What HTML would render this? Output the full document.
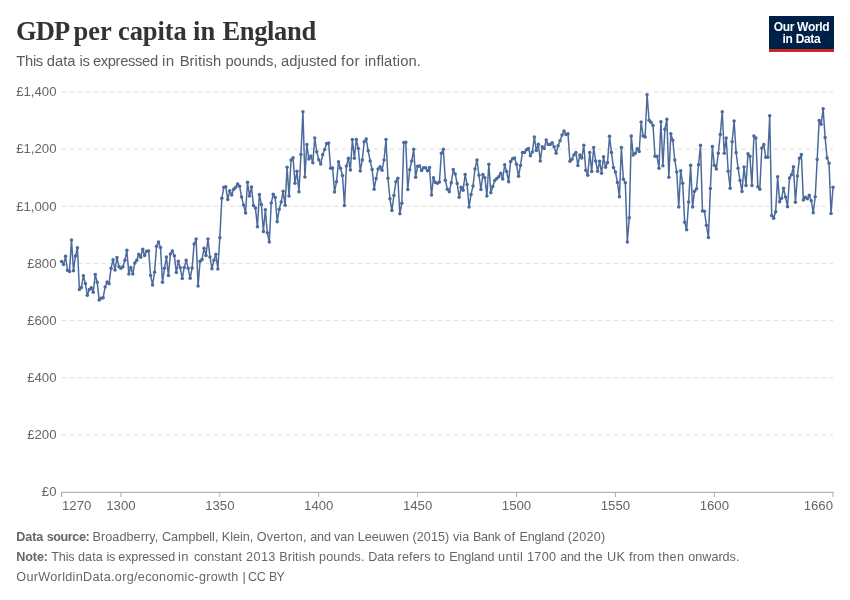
<!DOCTYPE html>
<html><head><meta charset="utf-8"><title>GDP per capita in England</title>
<style>
html,body{margin:0;padding:0;background:#fff;}
body{width:850px;height:600px;position:relative;overflow:hidden;font-family:"Liberation Sans",sans-serif;}
#title{position:absolute;left:0;top:15.4px;font-family:"Liberation Serif",serif;font-weight:bold;font-size:26.5px;color:#333;white-space:nowrap;line-height:32px;}
#sub{position:absolute;left:0;top:51px;font-size:14.75px;color:#5b5b5b;white-space:nowrap;line-height:20px;}
#logo{position:absolute;left:769px;top:16px;width:65px;height:36px;background:#002147;box-sizing:border-box;border-bottom:3px solid #c8281f;color:#fff;font-weight:bold;font-size:12px;line-height:12.5px;text-align:center;padding-top:4.5px;letter-spacing:-0.3px;}
.ft{position:absolute;left:0;font-size:12.6px;color:#666;white-space:pre;line-height:16px;}
#title span,#sub span,.ft span{position:absolute;top:0;white-space:pre;}
svg{position:absolute;left:0;top:0;}
svg text{font-family:"Liberation Sans",sans-serif;font-size:13.2px;fill:#666;}
#wrap{position:absolute;left:0;top:0;width:850px;height:600px;will-change:transform;-webkit-font-smoothing:antialiased;}
</style></head><body><div id="wrap">
<div id="title"><span style="left:16.10px;letter-spacing:-0.927px;font-weight:bold">GDP </span><span style="left:73.50px;letter-spacing:0.045px;font-weight:bold">per </span><span style="left:118.10px;letter-spacing:-0.130px;font-weight:bold">capita </span><span style="left:193.00px;letter-spacing:0.222px;font-weight:bold">in </span><span style="left:222.40px;letter-spacing:-0.324px;font-weight:bold">England</span></div>
<div id="sub"><span style="left:16.30px;letter-spacing:-0.314px">This </span><span style="left:46.70px;letter-spacing:0.017px">data </span><span style="left:79.60px;letter-spacing:-0.483px">is </span><span style="left:92.90px;letter-spacing:-0.356px">expressed </span><span style="left:161.50px;letter-spacing:0.443px;transform:scaleX(1.0300);transform-origin:0 0">in </span><span style="left:179.70px;letter-spacing:0.088px">British </span><span style="left:225.50px;letter-spacing:-0.124px">pounds, </span><span style="left:281.10px;letter-spacing:0.003px">adjusted </span><span style="left:341.00px;letter-spacing:0.443px;transform:scaleX(1.0268);transform-origin:0 0">for </span><span style="left:364.70px;letter-spacing:0.145px">inflation.</span></div>
<div id="logo">Our World<br>in Data</div>
<svg width="850" height="600" viewBox="0 0 850 600">
<g stroke="#ddd" stroke-width="1" stroke-dasharray="4,4" fill="none"><line x1="61.6" x2="833" y1="434.86" y2="434.86"/><line x1="61.6" x2="833" y1="377.71" y2="377.71"/><line x1="61.6" x2="833" y1="320.57" y2="320.57"/><line x1="61.6" x2="833" y1="263.43" y2="263.43"/><line x1="61.6" x2="833" y1="206.29" y2="206.29"/><line x1="61.6" x2="833" y1="149.14" y2="149.14"/><line x1="61.6" x2="833" y1="92.0" y2="92.0"/></g>
<line x1="61.1" x2="833.5" y1="492.3" y2="492.3" stroke="#a3a3a3" stroke-width="1"/>
<g stroke="#a8a8a8" stroke-width="1"><line x1="61.6" x2="61.6" y1="492.3" y2="497"/><line x1="120.94" x2="120.94" y1="492.3" y2="497"/><line x1="219.84" x2="219.84" y1="492.3" y2="497"/><line x1="318.74" x2="318.74" y1="492.3" y2="497"/><line x1="417.64" x2="417.64" y1="492.3" y2="497"/><line x1="516.54" x2="516.54" y1="492.3" y2="497"/><line x1="615.44" x2="615.44" y1="492.3" y2="497"/><line x1="714.34" x2="714.34" y1="492.3" y2="497"/><line x1="833.02" x2="833.02" y1="492.3" y2="497"/></g>
<g><text x="56.5" y="496.3" text-anchor="end">£0</text><text x="56.5" y="439.16" text-anchor="end">£200</text><text x="56.5" y="382.01" text-anchor="end">£400</text><text x="56.5" y="324.87" text-anchor="end">£600</text><text x="56.5" y="267.73" text-anchor="end">£800</text><text x="56.5" y="210.59" text-anchor="end">£1,000</text><text x="56.5" y="153.44" text-anchor="end">£1,200</text><text x="56.5" y="96.3" text-anchor="end">£1,400</text></g>
<g><text x="62" y="510.2" text-anchor="start">1270</text><text x="120.94" y="510.2" text-anchor="middle">1300</text><text x="219.84" y="510.2" text-anchor="middle">1350</text><text x="318.74" y="510.2" text-anchor="middle">1400</text><text x="417.64" y="510.2" text-anchor="middle">1450</text><text x="516.54" y="510.2" text-anchor="middle">1500</text><text x="615.44" y="510.2" text-anchor="middle">1550</text><text x="714.34" y="510.2" text-anchor="middle">1600</text><text x="833" y="510.2" text-anchor="end">1660</text></g>
<polyline points="61.6,261.4 63.58,264.6 65.56,256.33 67.53,270.33 69.51,271.4 71.49,239.93 73.47,270.73 75.45,255.93 77.42,247.67 79.4,289.53 81.38,287.4 83.36,275.67 85.34,283.4 87.31,295.27 89.29,289.4 91.27,287.67 93.25,292.33 95.23,274.47 97.2,282.33 99.18,299.93 101.16,298.33 103.14,297.67 105.12,287.0 107.09,282.07 109.07,283.67 111.05,268.33 113.03,259.67 115.01,269.93 116.98,257.4 118.96,266.73 120.94,268.33 122.92,266.73 124.9,260.33 126.87,250.33 128.85,273.93 130.83,267.4 132.81,274.07 134.79,263.0 136.76,260.33 138.74,254.33 140.72,257.27 142.7,249.27 144.68,255.4 146.65,251.27 148.63,251.0 150.61,275.4 152.59,285.0 154.57,272.33 156.54,246.33 158.52,242.07 160.5,247.4 162.48,282.33 164.46,268.33 166.43,257.0 168.41,275.4 170.39,254.07 172.37,251.0 174.35,255.67 176.32,272.6 178.3,261.27 180.28,267.67 182.26,278.6 184.24,267.4 186.21,260.33 188.19,268.33 190.17,278.33 192.15,267.93 194.13,243.93 196.1,239.0 198.08,286.07 200.06,261.27 202.04,259.4 204.02,248.33 205.99,255.4 207.97,239.0 209.95,257.0 211.93,268.73 213.91,260.33 215.88,254.33 217.86,269.0 219.84,237.67 221.82,198.27 223.8,187.33 225.77,186.67 227.75,199.6 229.73,190.67 231.71,194.93 233.69,189.33 235.66,187.33 237.64,184.0 239.62,186.27 241.6,197.07 243.58,204.93 245.55,213.07 247.53,182.27 249.51,196.0 251.49,187.07 253.47,205.6 255.44,208.0 257.42,226.67 259.4,194.4 261.38,204.4 263.36,231.6 265.33,209.73 267.31,232.67 269.29,242.0 271.27,202.93 273.25,194.27 275.22,197.6 277.2,221.73 279.18,209.33 281.16,202.0 283.14,191.33 285.11,205.33 287.09,167.33 289.07,196.11 291.05,160.0 293.03,157.8 295.0,183.28 296.98,171.36 298.96,191.71 300.94,154.5 302.92,111.78 304.89,177.04 306.87,144.41 308.85,159.08 310.83,155.96 312.81,162.75 314.78,138.0 316.76,151.75 318.74,159.63 320.72,164.03 322.7,154.86 324.67,149.55 326.65,143.5 328.63,142.95 330.61,168.24 332.59,167.88 334.56,192.08 336.54,181.63 338.52,161.83 340.5,168.24 342.48,175.58 344.45,205.46 346.43,166.04 348.41,158.16 350.39,170.08 352.37,139.46 354.34,158.16 356.32,139.46 358.3,148.45 360.28,170.99 362.26,160.0 364.23,141.66 366.21,138.95 368.19,150.8 370.17,161.0 372.15,169.55 374.12,189.2 376.1,178.55 378.08,168.95 380.06,166.7 382.04,170.3 384.01,159.95 385.99,139.55 387.97,178.25 389.95,198.8 391.93,210.5 393.9,195.5 395.88,181.7 397.86,178.25 399.84,213.8 401.82,203.3 403.79,142.55 405.77,142.25 407.75,189.5 409.73,169.7 411.71,161.0 413.68,149.3 415.66,177.2 417.64,166.25 419.62,165.95 421.6,170.45 423.57,167.75 425.55,167.75 427.53,170.75 429.51,167.45 431.49,195.05 433.46,177.8 435.44,182.45 437.42,183.2 439.4,182.0 441.38,153.2 443.35,149.3 445.33,180.2 447.31,189.2 449.29,191.75 451.27,182.75 453.24,169.55 455.22,174.05 457.2,183.5 459.18,197.3 461.16,187.25 463.13,190.25 465.11,174.5 467.09,184.55 469.07,207.05 471.05,194.45 473.02,186.05 475.0,168.95 476.98,159.95 478.96,175.25 480.94,189.5 482.91,174.5 484.89,177.8 486.87,195.95 488.85,164.3 490.83,192.8 492.8,186.5 494.78,180.5 496.76,178.55 498.74,176.75 500.72,173.3 502.69,179.0 504.67,164.75 506.65,171.5 508.63,181.7 510.61,161.45 512.58,158.75 514.56,158.0 516.54,164.3 518.52,176.3 520.5,165.5 522.47,152.45 524.45,152.45 526.43,149.75 528.41,148.55 530.39,155.75 532.36,152.0 534.34,137.0 536.32,150.5 538.3,144.2 540.28,161.0 542.25,146.75 544.23,148.55 546.21,140.0 548.19,144.5 550.17,144.5 552.14,142.7 554.12,146.75 556.1,153.2 558.08,145.7 560.06,140.75 562.03,135.05 564.01,131.0 565.99,134.45 567.97,133.7 569.95,161.3 571.92,159.2 573.9,155.0 575.88,152.45 577.86,165.5 579.84,155.0 581.81,158.0 583.79,145.25 585.77,170.3 587.75,175.25 589.73,152.45 591.7,171.5 593.68,147.5 595.66,161.0 597.64,171.2 599.62,161.3 601.59,173.3 603.57,156.8 605.55,167.3 607.53,162.5 609.51,136.3 611.48,152.5 613.46,167.5 615.44,172.0 617.42,182.5 619.4,196.75 621.37,147.55 623.35,179.2 625.33,182.8 627.31,242.05 629.29,217.75 631.26,136.0 633.24,155.05 635.22,153.25 637.2,148.75 639.18,151.45 641.15,122.05 643.13,136.0 645.11,137.05 647.09,94.75 649.07,120.25 651.04,122.2 653.02,125.5 655.0,156.25 656.98,156.25 658.96,168.25 660.93,121.75 662.91,165.7 664.89,129.25 666.87,119.2 668.85,177.25 670.82,133.75 672.8,140.2 674.78,160.0 676.76,172.0 678.74,206.95 680.71,170.8 682.69,183.25 684.67,222.25 686.65,229.75 688.63,202.0 690.6,165.25 692.58,206.95 694.56,191.2 696.54,188.8 698.52,164.8 700.49,145.3 702.47,211.0 704.45,211.3 706.43,225.25 708.41,237.55 710.38,188.5 712.36,146.5 714.34,165.25 716.32,169.0 718.3,153.25 720.27,134.5 722.25,111.7 724.23,153.25 726.21,137.95 728.19,171.25 730.16,188.2 732.14,141.7 734.12,121.0 736.1,152.5 738.08,168.25 740.05,180.55 742.03,191.5 744.01,167.05 745.99,185.5 747.97,153.7 749.94,156.25 751.92,185.5 753.9,136.0 755.88,137.95 757.86,186.7 759.83,189.2 761.81,148.0 763.79,144.55 765.77,157.25 767.75,157.25 769.72,115.7 771.7,215.45 773.68,218.3 775.66,211.7 777.64,176.75 779.61,201.8 781.59,198.2 783.57,188.3 785.55,197.0 787.53,206.75 789.5,177.95 791.48,174.8 793.46,166.7 795.44,202.25 797.42,176.0 799.39,158.3 801.37,154.55 803.35,200.0 805.33,197.3 807.31,198.8 809.28,195.2 811.26,200.75 813.24,212.75 815.22,196.7 817.2,159.5 819.17,120.5 821.15,124.25 823.13,108.8 825.11,137.45 827.09,158.0 829.06,163.25 831.04,213.5 833.02,187.25" fill="none" stroke="#4c6a9c" stroke-width="1.5" stroke-linejoin="round" stroke-linecap="round"/>
<g fill="#4c6a9c"><circle cx="61.6" cy="261.4" r="1.75"/><circle cx="63.58" cy="264.6" r="1.75"/><circle cx="65.56" cy="256.33" r="1.75"/><circle cx="67.53" cy="270.33" r="1.75"/><circle cx="69.51" cy="271.4" r="1.75"/><circle cx="71.49" cy="239.93" r="1.75"/><circle cx="73.47" cy="270.73" r="1.75"/><circle cx="75.45" cy="255.93" r="1.75"/><circle cx="77.42" cy="247.67" r="1.75"/><circle cx="79.4" cy="289.53" r="1.75"/><circle cx="81.38" cy="287.4" r="1.75"/><circle cx="83.36" cy="275.67" r="1.75"/><circle cx="85.34" cy="283.4" r="1.75"/><circle cx="87.31" cy="295.27" r="1.75"/><circle cx="89.29" cy="289.4" r="1.75"/><circle cx="91.27" cy="287.67" r="1.75"/><circle cx="93.25" cy="292.33" r="1.75"/><circle cx="95.23" cy="274.47" r="1.75"/><circle cx="97.2" cy="282.33" r="1.75"/><circle cx="99.18" cy="299.93" r="1.75"/><circle cx="101.16" cy="298.33" r="1.75"/><circle cx="103.14" cy="297.67" r="1.75"/><circle cx="105.12" cy="287.0" r="1.75"/><circle cx="107.09" cy="282.07" r="1.75"/><circle cx="109.07" cy="283.67" r="1.75"/><circle cx="111.05" cy="268.33" r="1.75"/><circle cx="113.03" cy="259.67" r="1.75"/><circle cx="115.01" cy="269.93" r="1.75"/><circle cx="116.98" cy="257.4" r="1.75"/><circle cx="118.96" cy="266.73" r="1.75"/><circle cx="120.94" cy="268.33" r="1.75"/><circle cx="122.92" cy="266.73" r="1.75"/><circle cx="124.9" cy="260.33" r="1.75"/><circle cx="126.87" cy="250.33" r="1.75"/><circle cx="128.85" cy="273.93" r="1.75"/><circle cx="130.83" cy="267.4" r="1.75"/><circle cx="132.81" cy="274.07" r="1.75"/><circle cx="134.79" cy="263.0" r="1.75"/><circle cx="136.76" cy="260.33" r="1.75"/><circle cx="138.74" cy="254.33" r="1.75"/><circle cx="140.72" cy="257.27" r="1.75"/><circle cx="142.7" cy="249.27" r="1.75"/><circle cx="144.68" cy="255.4" r="1.75"/><circle cx="146.65" cy="251.27" r="1.75"/><circle cx="148.63" cy="251.0" r="1.75"/><circle cx="150.61" cy="275.4" r="1.75"/><circle cx="152.59" cy="285.0" r="1.75"/><circle cx="154.57" cy="272.33" r="1.75"/><circle cx="156.54" cy="246.33" r="1.75"/><circle cx="158.52" cy="242.07" r="1.75"/><circle cx="160.5" cy="247.4" r="1.75"/><circle cx="162.48" cy="282.33" r="1.75"/><circle cx="164.46" cy="268.33" r="1.75"/><circle cx="166.43" cy="257.0" r="1.75"/><circle cx="168.41" cy="275.4" r="1.75"/><circle cx="170.39" cy="254.07" r="1.75"/><circle cx="172.37" cy="251.0" r="1.75"/><circle cx="174.35" cy="255.67" r="1.75"/><circle cx="176.32" cy="272.6" r="1.75"/><circle cx="178.3" cy="261.27" r="1.75"/><circle cx="180.28" cy="267.67" r="1.75"/><circle cx="182.26" cy="278.6" r="1.75"/><circle cx="184.24" cy="267.4" r="1.75"/><circle cx="186.21" cy="260.33" r="1.75"/><circle cx="188.19" cy="268.33" r="1.75"/><circle cx="190.17" cy="278.33" r="1.75"/><circle cx="192.15" cy="267.93" r="1.75"/><circle cx="194.13" cy="243.93" r="1.75"/><circle cx="196.1" cy="239.0" r="1.75"/><circle cx="198.08" cy="286.07" r="1.75"/><circle cx="200.06" cy="261.27" r="1.75"/><circle cx="202.04" cy="259.4" r="1.75"/><circle cx="204.02" cy="248.33" r="1.75"/><circle cx="205.99" cy="255.4" r="1.75"/><circle cx="207.97" cy="239.0" r="1.75"/><circle cx="209.95" cy="257.0" r="1.75"/><circle cx="211.93" cy="268.73" r="1.75"/><circle cx="213.91" cy="260.33" r="1.75"/><circle cx="215.88" cy="254.33" r="1.75"/><circle cx="217.86" cy="269.0" r="1.75"/><circle cx="219.84" cy="237.67" r="1.75"/><circle cx="221.82" cy="198.27" r="1.75"/><circle cx="223.8" cy="187.33" r="1.75"/><circle cx="225.77" cy="186.67" r="1.75"/><circle cx="227.75" cy="199.6" r="1.75"/><circle cx="229.73" cy="190.67" r="1.75"/><circle cx="231.71" cy="194.93" r="1.75"/><circle cx="233.69" cy="189.33" r="1.75"/><circle cx="235.66" cy="187.33" r="1.75"/><circle cx="237.64" cy="184.0" r="1.75"/><circle cx="239.62" cy="186.27" r="1.75"/><circle cx="241.6" cy="197.07" r="1.75"/><circle cx="243.58" cy="204.93" r="1.75"/><circle cx="245.55" cy="213.07" r="1.75"/><circle cx="247.53" cy="182.27" r="1.75"/><circle cx="249.51" cy="196.0" r="1.75"/><circle cx="251.49" cy="187.07" r="1.75"/><circle cx="253.47" cy="205.6" r="1.75"/><circle cx="255.44" cy="208.0" r="1.75"/><circle cx="257.42" cy="226.67" r="1.75"/><circle cx="259.4" cy="194.4" r="1.75"/><circle cx="261.38" cy="204.4" r="1.75"/><circle cx="263.36" cy="231.6" r="1.75"/><circle cx="265.33" cy="209.73" r="1.75"/><circle cx="267.31" cy="232.67" r="1.75"/><circle cx="269.29" cy="242.0" r="1.75"/><circle cx="271.27" cy="202.93" r="1.75"/><circle cx="273.25" cy="194.27" r="1.75"/><circle cx="275.22" cy="197.6" r="1.75"/><circle cx="277.2" cy="221.73" r="1.75"/><circle cx="279.18" cy="209.33" r="1.75"/><circle cx="281.16" cy="202.0" r="1.75"/><circle cx="283.14" cy="191.33" r="1.75"/><circle cx="285.11" cy="205.33" r="1.75"/><circle cx="287.09" cy="167.33" r="1.75"/><circle cx="289.07" cy="196.11" r="1.75"/><circle cx="291.05" cy="160.0" r="1.75"/><circle cx="293.03" cy="157.8" r="1.75"/><circle cx="295.0" cy="183.28" r="1.75"/><circle cx="296.98" cy="171.36" r="1.75"/><circle cx="298.96" cy="191.71" r="1.75"/><circle cx="300.94" cy="154.5" r="1.75"/><circle cx="302.92" cy="111.78" r="1.75"/><circle cx="304.89" cy="177.04" r="1.75"/><circle cx="306.87" cy="144.41" r="1.75"/><circle cx="308.85" cy="159.08" r="1.75"/><circle cx="310.83" cy="155.96" r="1.75"/><circle cx="312.81" cy="162.75" r="1.75"/><circle cx="314.78" cy="138.0" r="1.75"/><circle cx="316.76" cy="151.75" r="1.75"/><circle cx="318.74" cy="159.63" r="1.75"/><circle cx="320.72" cy="164.03" r="1.75"/><circle cx="322.7" cy="154.86" r="1.75"/><circle cx="324.67" cy="149.55" r="1.75"/><circle cx="326.65" cy="143.5" r="1.75"/><circle cx="328.63" cy="142.95" r="1.75"/><circle cx="330.61" cy="168.24" r="1.75"/><circle cx="332.59" cy="167.88" r="1.75"/><circle cx="334.56" cy="192.08" r="1.75"/><circle cx="336.54" cy="181.63" r="1.75"/><circle cx="338.52" cy="161.83" r="1.75"/><circle cx="340.5" cy="168.24" r="1.75"/><circle cx="342.48" cy="175.58" r="1.75"/><circle cx="344.45" cy="205.46" r="1.75"/><circle cx="346.43" cy="166.04" r="1.75"/><circle cx="348.41" cy="158.16" r="1.75"/><circle cx="350.39" cy="170.08" r="1.75"/><circle cx="352.37" cy="139.46" r="1.75"/><circle cx="354.34" cy="158.16" r="1.75"/><circle cx="356.32" cy="139.46" r="1.75"/><circle cx="358.3" cy="148.45" r="1.75"/><circle cx="360.28" cy="170.99" r="1.75"/><circle cx="362.26" cy="160.0" r="1.75"/><circle cx="364.23" cy="141.66" r="1.75"/><circle cx="366.21" cy="138.95" r="1.75"/><circle cx="368.19" cy="150.8" r="1.75"/><circle cx="370.17" cy="161.0" r="1.75"/><circle cx="372.15" cy="169.55" r="1.75"/><circle cx="374.12" cy="189.2" r="1.75"/><circle cx="376.1" cy="178.55" r="1.75"/><circle cx="378.08" cy="168.95" r="1.75"/><circle cx="380.06" cy="166.7" r="1.75"/><circle cx="382.04" cy="170.3" r="1.75"/><circle cx="384.01" cy="159.95" r="1.75"/><circle cx="385.99" cy="139.55" r="1.75"/><circle cx="387.97" cy="178.25" r="1.75"/><circle cx="389.95" cy="198.8" r="1.75"/><circle cx="391.93" cy="210.5" r="1.75"/><circle cx="393.9" cy="195.5" r="1.75"/><circle cx="395.88" cy="181.7" r="1.75"/><circle cx="397.86" cy="178.25" r="1.75"/><circle cx="399.84" cy="213.8" r="1.75"/><circle cx="401.82" cy="203.3" r="1.75"/><circle cx="403.79" cy="142.55" r="1.75"/><circle cx="405.77" cy="142.25" r="1.75"/><circle cx="407.75" cy="189.5" r="1.75"/><circle cx="409.73" cy="169.7" r="1.75"/><circle cx="411.71" cy="161.0" r="1.75"/><circle cx="413.68" cy="149.3" r="1.75"/><circle cx="415.66" cy="177.2" r="1.75"/><circle cx="417.64" cy="166.25" r="1.75"/><circle cx="419.62" cy="165.95" r="1.75"/><circle cx="421.6" cy="170.45" r="1.75"/><circle cx="423.57" cy="167.75" r="1.75"/><circle cx="425.55" cy="167.75" r="1.75"/><circle cx="427.53" cy="170.75" r="1.75"/><circle cx="429.51" cy="167.45" r="1.75"/><circle cx="431.49" cy="195.05" r="1.75"/><circle cx="433.46" cy="177.8" r="1.75"/><circle cx="435.44" cy="182.45" r="1.75"/><circle cx="437.42" cy="183.2" r="1.75"/><circle cx="439.4" cy="182.0" r="1.75"/><circle cx="441.38" cy="153.2" r="1.75"/><circle cx="443.35" cy="149.3" r="1.75"/><circle cx="445.33" cy="180.2" r="1.75"/><circle cx="447.31" cy="189.2" r="1.75"/><circle cx="449.29" cy="191.75" r="1.75"/><circle cx="451.27" cy="182.75" r="1.75"/><circle cx="453.24" cy="169.55" r="1.75"/><circle cx="455.22" cy="174.05" r="1.75"/><circle cx="457.2" cy="183.5" r="1.75"/><circle cx="459.18" cy="197.3" r="1.75"/><circle cx="461.16" cy="187.25" r="1.75"/><circle cx="463.13" cy="190.25" r="1.75"/><circle cx="465.11" cy="174.5" r="1.75"/><circle cx="467.09" cy="184.55" r="1.75"/><circle cx="469.07" cy="207.05" r="1.75"/><circle cx="471.05" cy="194.45" r="1.75"/><circle cx="473.02" cy="186.05" r="1.75"/><circle cx="475.0" cy="168.95" r="1.75"/><circle cx="476.98" cy="159.95" r="1.75"/><circle cx="478.96" cy="175.25" r="1.75"/><circle cx="480.94" cy="189.5" r="1.75"/><circle cx="482.91" cy="174.5" r="1.75"/><circle cx="484.89" cy="177.8" r="1.75"/><circle cx="486.87" cy="195.95" r="1.75"/><circle cx="488.85" cy="164.3" r="1.75"/><circle cx="490.83" cy="192.8" r="1.75"/><circle cx="492.8" cy="186.5" r="1.75"/><circle cx="494.78" cy="180.5" r="1.75"/><circle cx="496.76" cy="178.55" r="1.75"/><circle cx="498.74" cy="176.75" r="1.75"/><circle cx="500.72" cy="173.3" r="1.75"/><circle cx="502.69" cy="179.0" r="1.75"/><circle cx="504.67" cy="164.75" r="1.75"/><circle cx="506.65" cy="171.5" r="1.75"/><circle cx="508.63" cy="181.7" r="1.75"/><circle cx="510.61" cy="161.45" r="1.75"/><circle cx="512.58" cy="158.75" r="1.75"/><circle cx="514.56" cy="158.0" r="1.75"/><circle cx="516.54" cy="164.3" r="1.75"/><circle cx="518.52" cy="176.3" r="1.75"/><circle cx="520.5" cy="165.5" r="1.75"/><circle cx="522.47" cy="152.45" r="1.75"/><circle cx="524.45" cy="152.45" r="1.75"/><circle cx="526.43" cy="149.75" r="1.75"/><circle cx="528.41" cy="148.55" r="1.75"/><circle cx="530.39" cy="155.75" r="1.75"/><circle cx="532.36" cy="152.0" r="1.75"/><circle cx="534.34" cy="137.0" r="1.75"/><circle cx="536.32" cy="150.5" r="1.75"/><circle cx="538.3" cy="144.2" r="1.75"/><circle cx="540.28" cy="161.0" r="1.75"/><circle cx="542.25" cy="146.75" r="1.75"/><circle cx="544.23" cy="148.55" r="1.75"/><circle cx="546.21" cy="140.0" r="1.75"/><circle cx="548.19" cy="144.5" r="1.75"/><circle cx="550.17" cy="144.5" r="1.75"/><circle cx="552.14" cy="142.7" r="1.75"/><circle cx="554.12" cy="146.75" r="1.75"/><circle cx="556.1" cy="153.2" r="1.75"/><circle cx="558.08" cy="145.7" r="1.75"/><circle cx="560.06" cy="140.75" r="1.75"/><circle cx="562.03" cy="135.05" r="1.75"/><circle cx="564.01" cy="131.0" r="1.75"/><circle cx="565.99" cy="134.45" r="1.75"/><circle cx="567.97" cy="133.7" r="1.75"/><circle cx="569.95" cy="161.3" r="1.75"/><circle cx="571.92" cy="159.2" r="1.75"/><circle cx="573.9" cy="155.0" r="1.75"/><circle cx="575.88" cy="152.45" r="1.75"/><circle cx="577.86" cy="165.5" r="1.75"/><circle cx="579.84" cy="155.0" r="1.75"/><circle cx="581.81" cy="158.0" r="1.75"/><circle cx="583.79" cy="145.25" r="1.75"/><circle cx="585.77" cy="170.3" r="1.75"/><circle cx="587.75" cy="175.25" r="1.75"/><circle cx="589.73" cy="152.45" r="1.75"/><circle cx="591.7" cy="171.5" r="1.75"/><circle cx="593.68" cy="147.5" r="1.75"/><circle cx="595.66" cy="161.0" r="1.75"/><circle cx="597.64" cy="171.2" r="1.75"/><circle cx="599.62" cy="161.3" r="1.75"/><circle cx="601.59" cy="173.3" r="1.75"/><circle cx="603.57" cy="156.8" r="1.75"/><circle cx="605.55" cy="167.3" r="1.75"/><circle cx="607.53" cy="162.5" r="1.75"/><circle cx="609.51" cy="136.3" r="1.75"/><circle cx="611.48" cy="152.5" r="1.75"/><circle cx="613.46" cy="167.5" r="1.75"/><circle cx="615.44" cy="172.0" r="1.75"/><circle cx="617.42" cy="182.5" r="1.75"/><circle cx="619.4" cy="196.75" r="1.75"/><circle cx="621.37" cy="147.55" r="1.75"/><circle cx="623.35" cy="179.2" r="1.75"/><circle cx="625.33" cy="182.8" r="1.75"/><circle cx="627.31" cy="242.05" r="1.75"/><circle cx="629.29" cy="217.75" r="1.75"/><circle cx="631.26" cy="136.0" r="1.75"/><circle cx="633.24" cy="155.05" r="1.75"/><circle cx="635.22" cy="153.25" r="1.75"/><circle cx="637.2" cy="148.75" r="1.75"/><circle cx="639.18" cy="151.45" r="1.75"/><circle cx="641.15" cy="122.05" r="1.75"/><circle cx="643.13" cy="136.0" r="1.75"/><circle cx="645.11" cy="137.05" r="1.75"/><circle cx="647.09" cy="94.75" r="1.75"/><circle cx="649.07" cy="120.25" r="1.75"/><circle cx="651.04" cy="122.2" r="1.75"/><circle cx="653.02" cy="125.5" r="1.75"/><circle cx="655.0" cy="156.25" r="1.75"/><circle cx="656.98" cy="156.25" r="1.75"/><circle cx="658.96" cy="168.25" r="1.75"/><circle cx="660.93" cy="121.75" r="1.75"/><circle cx="662.91" cy="165.7" r="1.75"/><circle cx="664.89" cy="129.25" r="1.75"/><circle cx="666.87" cy="119.2" r="1.75"/><circle cx="668.85" cy="177.25" r="1.75"/><circle cx="670.82" cy="133.75" r="1.75"/><circle cx="672.8" cy="140.2" r="1.75"/><circle cx="674.78" cy="160.0" r="1.75"/><circle cx="676.76" cy="172.0" r="1.75"/><circle cx="678.74" cy="206.95" r="1.75"/><circle cx="680.71" cy="170.8" r="1.75"/><circle cx="682.69" cy="183.25" r="1.75"/><circle cx="684.67" cy="222.25" r="1.75"/><circle cx="686.65" cy="229.75" r="1.75"/><circle cx="688.63" cy="202.0" r="1.75"/><circle cx="690.6" cy="165.25" r="1.75"/><circle cx="692.58" cy="206.95" r="1.75"/><circle cx="694.56" cy="191.2" r="1.75"/><circle cx="696.54" cy="188.8" r="1.75"/><circle cx="698.52" cy="164.8" r="1.75"/><circle cx="700.49" cy="145.3" r="1.75"/><circle cx="702.47" cy="211.0" r="1.75"/><circle cx="704.45" cy="211.3" r="1.75"/><circle cx="706.43" cy="225.25" r="1.75"/><circle cx="708.41" cy="237.55" r="1.75"/><circle cx="710.38" cy="188.5" r="1.75"/><circle cx="712.36" cy="146.5" r="1.75"/><circle cx="714.34" cy="165.25" r="1.75"/><circle cx="716.32" cy="169.0" r="1.75"/><circle cx="718.3" cy="153.25" r="1.75"/><circle cx="720.27" cy="134.5" r="1.75"/><circle cx="722.25" cy="111.7" r="1.75"/><circle cx="724.23" cy="153.25" r="1.75"/><circle cx="726.21" cy="137.95" r="1.75"/><circle cx="728.19" cy="171.25" r="1.75"/><circle cx="730.16" cy="188.2" r="1.75"/><circle cx="732.14" cy="141.7" r="1.75"/><circle cx="734.12" cy="121.0" r="1.75"/><circle cx="736.1" cy="152.5" r="1.75"/><circle cx="738.08" cy="168.25" r="1.75"/><circle cx="740.05" cy="180.55" r="1.75"/><circle cx="742.03" cy="191.5" r="1.75"/><circle cx="744.01" cy="167.05" r="1.75"/><circle cx="745.99" cy="185.5" r="1.75"/><circle cx="747.97" cy="153.7" r="1.75"/><circle cx="749.94" cy="156.25" r="1.75"/><circle cx="751.92" cy="185.5" r="1.75"/><circle cx="753.9" cy="136.0" r="1.75"/><circle cx="755.88" cy="137.95" r="1.75"/><circle cx="757.86" cy="186.7" r="1.75"/><circle cx="759.83" cy="189.2" r="1.75"/><circle cx="761.81" cy="148.0" r="1.75"/><circle cx="763.79" cy="144.55" r="1.75"/><circle cx="765.77" cy="157.25" r="1.75"/><circle cx="767.75" cy="157.25" r="1.75"/><circle cx="769.72" cy="115.7" r="1.75"/><circle cx="771.7" cy="215.45" r="1.75"/><circle cx="773.68" cy="218.3" r="1.75"/><circle cx="775.66" cy="211.7" r="1.75"/><circle cx="777.64" cy="176.75" r="1.75"/><circle cx="779.61" cy="201.8" r="1.75"/><circle cx="781.59" cy="198.2" r="1.75"/><circle cx="783.57" cy="188.3" r="1.75"/><circle cx="785.55" cy="197.0" r="1.75"/><circle cx="787.53" cy="206.75" r="1.75"/><circle cx="789.5" cy="177.95" r="1.75"/><circle cx="791.48" cy="174.8" r="1.75"/><circle cx="793.46" cy="166.7" r="1.75"/><circle cx="795.44" cy="202.25" r="1.75"/><circle cx="797.42" cy="176.0" r="1.75"/><circle cx="799.39" cy="158.3" r="1.75"/><circle cx="801.37" cy="154.55" r="1.75"/><circle cx="803.35" cy="200.0" r="1.75"/><circle cx="805.33" cy="197.3" r="1.75"/><circle cx="807.31" cy="198.8" r="1.75"/><circle cx="809.28" cy="195.2" r="1.75"/><circle cx="811.26" cy="200.75" r="1.75"/><circle cx="813.24" cy="212.75" r="1.75"/><circle cx="815.22" cy="196.7" r="1.75"/><circle cx="817.2" cy="159.5" r="1.75"/><circle cx="819.17" cy="120.5" r="1.75"/><circle cx="821.15" cy="124.25" r="1.75"/><circle cx="823.13" cy="108.8" r="1.75"/><circle cx="825.11" cy="137.45" r="1.75"/><circle cx="827.09" cy="158.0" r="1.75"/><circle cx="829.06" cy="163.25" r="1.75"/><circle cx="831.04" cy="213.5" r="1.75"/><circle cx="833.02" cy="187.25" r="1.75"/></g>
</svg>
<div class="ft" style="top:529px"><span style="left:16.30px;letter-spacing:-0.079px;font-weight:bold">Data </span><span style="left:46.70px;letter-spacing:-0.413px;font-weight:bold">source: </span><span style="left:92.40px;letter-spacing:0.102px">Broadberry, </span><span style="left:162.00px;letter-spacing:-0.040px">Campbell, </span><span style="left:221.80px;letter-spacing:-0.017px">Klein, </span><span style="left:256.70px;letter-spacing:0.200px">Overton, </span><span style="left:310.30px;letter-spacing:-0.204px">and </span><span style="left:334.00px;letter-spacing:-0.028px">van </span><span style="left:357.70px;letter-spacing:0.022px">Leeuwen </span><span style="left:412.50px;letter-spacing:0.071px">(2015) </span><span style="left:452.90px;letter-spacing:0.098px">via </span><span style="left:472.90px;letter-spacing:-0.304px">Bank </span><span style="left:503.60px;letter-spacing:0.378px;transform:scaleX(1.0300);transform-origin:0 0">of </span><span style="left:519.50px;letter-spacing:-0.190px">England </span><span style="left:567.70px;letter-spacing:0.199px">(2020)</span></div>
<div class="ft" style="top:549px"><span style="left:16.30px;letter-spacing:-0.131px;font-weight:bold">Note: </span><span style="left:51.20px;letter-spacing:-0.119px">This </span><span style="left:77.90px;letter-spacing:0.137px">data </span><span style="left:106.60px;letter-spacing:-0.298px">is </span><span style="left:118.30px;letter-spacing:-0.151px">expressed </span><span style="left:178.40px;letter-spacing:0.378px;transform:scaleX(1.0300);transform-origin:0 0">in </span><span style="left:193.90px;letter-spacing:0.055px">constant </span><span style="left:245.50px;letter-spacing:0.378px;transform:scaleX(1.0088);transform-origin:0 0">2013 </span><span style="left:279.20px;letter-spacing:0.175px">British </span><span style="left:319.10px;letter-spacing:0.096px">pounds. </span><span style="left:368.20px;letter-spacing:-0.142px">Data </span><span style="left:397.60px;letter-spacing:0.128px">refers </span><span style="left:434.20px;letter-spacing:0.328px">to </span><span style="left:449.20px;letter-spacing:-0.140px">England </span><span style="left:497.80px;letter-spacing:0.378px;transform:scaleX(1.0112);transform-origin:0 0">until </span><span style="left:527.00px;letter-spacing:0.357px">1700 </span><span style="left:560.30px;letter-spacing:-0.304px">and </span><span style="left:583.60px;letter-spacing:0.378px;transform:scaleX(1.0254);transform-origin:0 0">the </span><span style="left:606.70px;letter-spacing:0.378px;transform:scaleX(1.0120);transform-origin:0 0">UK </span><span style="left:629.10px;letter-spacing:0.103px">from </span><span style="left:658.30px;letter-spacing:0.378px">then </span><span style="left:688.30px;letter-spacing:-0.001px">onwards.</span></div>
<div class="ft" style="top:569.4px"><span style="left:16.30px;letter-spacing:0.330px">OurWorldinData.org/economic-growth </span><span style="left:242.50px;letter-spacing:-0.630px">| </span><span style="left:248.00px;letter-spacing:-0.334px">CC </span><span style="left:268.70px;letter-spacing:-0.630px;transform:scaleX(0.9773);transform-origin:0 0">BY</span></div>
</div></body></html>
